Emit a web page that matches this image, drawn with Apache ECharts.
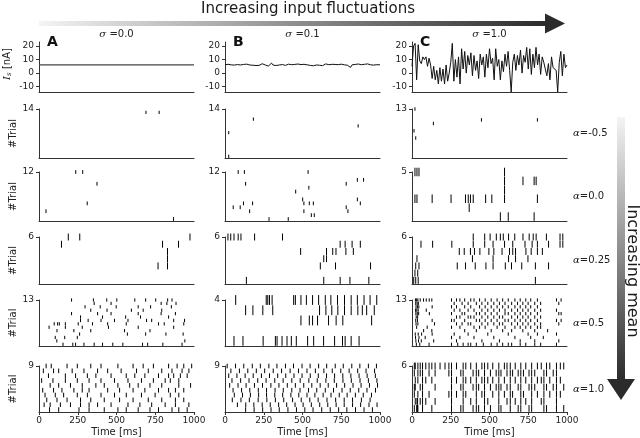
<!DOCTYPE html>
<html><head><meta charset="utf-8">
<script src="https://cdn.jsdelivr.net/npm/echarts@6/dist/echarts.min.js"></script>
<style>html,body{margin:0;padding:0;background:#fff}#c{width:640px;height:438px}</style>
</head><body><div id="c"></div>
<script>
// ---------- DATA ----------
const sigmaLabels = ['0.0', '0.1', '1.0'];
const alphaLabels = ['-0.5', '0.0', '0.25', '0.5', '1.0'];
const panelLetters = ['A', 'B', 'C'];
const timeTicks = [0, 250, 500, 750, 1000];
const isTicks = [-10, 0, 10, 20];
const isStep = 10; // ms between current samples

const Is_A_times = [0, 1000];
const Is_A = [6, 6];
const Is_B = [6.2,5.8,6.5,5.6,6.1,6.8,5.9,5.4,6.3,6.9, 6.0,5.5,6.4,5.9,6.6,5.3,6.0,6.7,5.8,6.2,
  5.6,6.4,5.7,6.1,6.9,5.5,6.0,6.3,5.2,6.1, 7.4,5.9,6.2,5.6,6.5,6.0,5.4,6.3,6.8,5.7,
  6.1,6.6,5.8,6.2,5.5,6.4,6.0,6.7,5.6,6.3, 5.9,6.5,5.8,6.1,6.9,5.7,6.2,5.4,6.4,6.0,
  6.6,5.8,6.3,5.5,6.1,6.8,5.9,6.2,5.6,6.5, 6.0,6.4,5.7,6.2,5.9,6.6,5.5,6.1,6.3,5.8,
  6.0,4.2,6.1,5.6,6.4,5.9,6.7,5.8,6.2,5.4, 6.5,6.0,6.8,5.7,6.1,6.3,5.9,5.5,6.2,6.0, 6.1];
const Is_C = [5,20,22,-5,21,9,7,12,10,12, 5,11,6,-4,5,-5,2,-8,4,-6,
  3,-8,6,-6,0,8,22,-6,10,-3, 12,-8,18,3,16,0,13,6,15,-2,
  13,2,9,-4,14,6,12,-3,14,4, 18,7,11,-5,18,5,10,-5,9,1,
  14,5,16,2,-14,8,14,2,13,6, 17,0,13,8,19,3,18,-1,14,4,
  19,6,14,-1,12,8,3,-2,7,-5, 12,4,5,2,-14,8,16,-2,14,4, 6];

// spike times (ms); index of inner array = trial number
const spk_A_m05 = [[],[],[],[],[],[],[],[],[],[],[],[],[],[690,775],[]];
const spk_B_m05 = [[24],[],[],[],[],[],[],[24],[],[859],[],[183],[],[],[]];
const spk_C_m05 = [[],[],[],[],[],[24],[],[13],[],[138],[448,809],[],[],[19]];

const spk_A_0 = [[868],[],[45],[],[311],[],[],[],[],[374],[],[],[237,282]];
const spk_B_0 = [[284,408],[557,576],[159,509,793],[53,98,782],[119,178,509,544,570,873],[501,854],[],[456],[541],[133,782],[854,894],[],[85,125,536]];
const spk_C_0 = [[570,621,788],[369],[19,32,130,252,345,363,377,395,475,515,597,809],[597],[597,716,788,801],[19,32,45,597]];

const spk_A_025 = [[],[],[768,829],[829],[829],[145,797,900],[189,263,974]];
const spk_B_025 = [[138,637,743,806,928],[],[615,713,939],[637,655],[488,655,695,716,780,828],[743,775,820,873],[19,37,58,85,103,191,371]];
const spk_C_025 = [[11,24,40,796],[19,37],[24,45,292,345,408,477,523,602,642,708,796,881],[32,390,523,623,668,748],
  [305,337,377,403,438,496,528,581,629,650,668,735,769,809,841],
  [58,133,257,395,469,523,597,650,729,775,809,881,955,973],
  [395,469,504,544,570,589,623,663,716,756,782,801,867,955,973]];

const spk_A_05 = [[155,218,236,290,356,410,476,541,668,701,799,923],[115,941],[105,166,247],[262,570,688,819,930],
  [116,225,334,552,716],[65,170,279,448,640,869],[98,120,131,170,253,345,443,563,771,808,934],
  [268,317,400,487,574,694,727,869,939],[268,410,559,655,836],[210,378,465,640,788,880],
  [334,439,596,672,792],[297,395,498,640,720,854],[356,465,788,825,884],[210,351,437,502,618,688,753,830,858]];
const spk_B_05 = [[58,116,246,325,336,368,400,428,460,533,572,636,707,758,775,814,865],[],
  [490,544,565,597,668,717,760,946],
  [133,180,244,308,610,651,689,728,771,814,857,886,914,963],
  [69,266,276,287,304,443,454,490,525,565,604,647,683,726,771,814,854,897,936,979]];
const spk_C_05 = [
  [28,50,110,255,295,330,362,379,415,460,511,549,585,621,643,698,734,792,830,932],
  [25,42,60,140,287,451,564,698,792,947],
  [23,45,85,255,309,400,528,664,766,847],
  [21,40,62,130,272,362,489,621,749,809,932],
  [75,128,340,415,511,585,643,715,792,875],
  [30,98,255,309,400,436,472,549,600,664,698,734,766,809,830],
  [26,38,145,287,323,362,379,451,489,528,564,585,643,681,715,749,792,830,947],
  [24,35,130,255,272,340,415,436,472,511,549,600,621,664,698,734,766,809,932,962],
  [27,36,287,309,362,379,400,451,489,528,564,585,643,681,715,749,792,830],
  [25,34,43,112,255,323,340,415,436,472,511,549,600,621,664,698,734,766,809,947,962],
  [23,31,40,92,272,309,362,400,451,489,528,564,600,643,681,715,749,792,830,932],
  [26,35,44,130,255,287,340,379,436,472,511,549,585,621,664,698,734,766,809],
  [24,33,41,272,323,362,415,451,489,528,564,600,643,681,715,749,792,830,947],
  [22,30,38,53,74,92,111,128,255,287,309,340,379,400,436,472,511,549,585,621,664,698,734,766,809,932,962]];

const spk_A_1 = [
  [68,127,258,323,421,509,563,640,716,771,858,902,956],
  [33,72,138,203,268,323,378,465,574,651,727,814,880,967],
  [50,116,181,268,334,421,520,607,705,792,880,934],
  [39,105,159,247,312,400,487,563,661,749,847,902],
  [24,94,148,225,279,323,443,520,607,683,771,836,880,934],
  [72,127,203,279,367,421,509,585,640,716,792,902,978],
  [17,90,170,247,323,400,487,574,661,738,814,847,902],
  [61,170,236,312,367,465,563,618,683,771,836,869,912,956],
  [28,94,127,214,290,378,443,530,629,705,792,858,923,967],
  [46,79,181,247,334,400,509,607,672,738,836,891,934,985]];
const spk_B_1 = [
  [133,188,243,297,350,406,461,515,568,624,679,733,786,842,897,951],
  [80,134,186,240,292,346,398,452,504,557,611,663,717,769,823,875,929,981],
  [47,103,157,214,270,325,379,436,492,547,601,658,714,769,823,880,936],
  [60,113,164,217,268,321,372,425,476,529,580,633,684,737,788,841,892,945],
  [52,107,160,215,268,323,376,431,484,539,592,647,700,755,808,863,916,971],
  [30,84,136,190,242,296,348,402,454,508,560,614,666,720,772,826,878,932,984],
  [45,101,155,211,265,321,375,431,485,541,595,651,705,761,815,871,925,980],
  [24,77,130,182,235,287,340,392,445,497,550,602,655,707,760,812,865,917,970],
  [38,93,147,202,256,311,365,420,474,529,583,638,692,747,801,856,910,965],
  [14,68,121,176,228,283,335,390,442,497,549,604,656,711,763,818,870,925,977]];
const spk_C_1 = [
  [15,30,35,38,68,128,255,315,330,394,415,430,468,506,560,574,634,685,702,755,772,851,868,932,979],
  [21,32,36,53,68,89,149,255,330,379,415,468,489,560,613,634,666,702,734,772,834,851,932],
  [15,38,68,110,238,255,287,330,347,415,451,468,521,560,596,634,649,702,719,772,809,851,889,932,957],
  [15,21,53,68,149,255,315,330,394,415,430,468,506,543,560,574,613,634,685,702,755,772,792,851,868,911,932,979],
  [21,38,68,89,128,255,287,330,347,379,415,451,468,489,521,560,596,634,666,702,734,772,809,834,851,889,932,957],
  [15,38,53,68,110,149,238,255,315,330,394,415,430,468,506,543,560,574,613,634,649,685,702,719,755,772,792,851,868,911,932],
  [15,21,38,53,68,89,110,128,149,181,213,238,255,287,330,347,379,415,451,468,489,521,560,596,613,634,666,702,734,772,809,834,868,889,932,957,979]];

const rasters = [
  [spk_A_m05, spk_B_m05, spk_C_m05],
  [spk_A_0, spk_B_0, spk_C_0],
  [spk_A_025, spk_B_025, spk_C_025],
  [spk_A_05, spk_B_05, spk_C_05],
  [spk_A_1, spk_B_1, spk_C_1]
];

// ---------- LAYOUT ----------
const colLeft = [39, 225, 412], colW = 155;
const rowTop = [42, 109, 172, 237, 300, 366];
const rowBot = [92, 158, 221, 284, 346, 412];
const axisColor = '#333';
const FONT = 'DejaVu Sans';

const grids = [], xAxes = [], yAxes = [], series = [];
let gi = 0;
for (let r = 0; r < 6; r++) {
  for (let c = 0; c < 3; c++) {
    grids.push({left: colLeft[c], top: rowTop[r], width: colW, height: rowBot[r] - rowTop[r]});
    const last = r === 5;
    xAxes.push({gridIndex: gi, type: 'value', min: 0, max: 1000, interval: 250,
      axisLine: {show: true, onZero: false, lineStyle: {color: axisColor, width: 1}},
      axisTick: {show: last, length: 3, customValues: timeTicks, lineStyle: {color: axisColor}},
      axisLabel: {show: last, customValues: timeTicks, fontSize: 9, color: '#222', margin: 4, fontFamily: FONT,
        formatter: v => String(v)},
      splitLine: {show: false}});
    if (r === 0) {
      yAxes.push({gridIndex: gi, type: 'value', min: -14, max: 23,
        axisLine: {show: true, onZero: false, lineStyle: {color: axisColor, width: 1}},
        axisTick: {show: true, length: 3, customValues: isTicks, lineStyle: {color: axisColor}},
        axisLabel: {show: true, customValues: isTicks, fontSize: 9, color: '#222', margin: 5, fontFamily: FONT},
        splitLine: {show: false}});
      const vals = c === 0 ? Is_A : (c === 1 ? Is_B : Is_C);
      const data = c === 0 ? Is_A.map((v, i) => [Is_A_times[i], v]) : vals.map((v, i) => [i * isStep, v]);
      series.push({type: 'line', xAxisIndex: gi, yAxisIndex: gi, data: data, showSymbol: false,
        lineStyle: {color: c === 0 ? '#444' : '#111', width: c === 0 ? 1.3 : 1}, silent: true});
    } else {
      const trials = rasters[r - 1][c];
      const N = trials.length - 1;
      yAxes.push({gridIndex: gi, type: 'value', min: -0.5, max: N,
        axisLine: {show: true, onZero: false, lineStyle: {color: axisColor, width: 1}},
        axisTick: {show: true, length: 3, customValues: [N], lineStyle: {color: axisColor}},
        axisLabel: {show: true, customValues: [N], fontSize: 9, color: '#222', margin: 5, fontFamily: FONT},
        splitLine: {show: false}});
      const data = [];
      trials.forEach((arr, tr) => arr.forEach(t => data.push([t, tr])));
      series.push({type: 'custom', xAxisIndex: gi, yAxisIndex: gi, data: data, clip: false, silent: true,
        renderItem: function (params, api) {
          const t = api.value(0), tr = api.value(1);
          const p1 = api.coord([t, tr - 0.48]), p2 = api.coord([t, tr + 0.48]);
          return {type: 'line', shape: {x1: p1[0], y1: p1[1], x2: p2[0], y2: p2[1]},
            style: {stroke: '#000', lineWidth: 1}};
        }});
    }
    gi++;
  }
}

// ---------- GRAPHICS (annotations) ----------
const graphic = [];
graphic.push({type: 'text', x: 308, y: 9, style: {text: 'Increasing input fluctuations', font: '15px ' + FONT,
  fill: '#1a1a1a', align: 'center', verticalAlign: 'middle'}});
graphic.push({type: 'rect', shape: {x: 39, y: 21, width: 507, height: 5},
  style: {fill: new echarts.graphic.LinearGradient(0, 0, 1, 0, [{offset: 0, color: '#f4f4f4'}, {offset: 1, color: '#2b2b2b'}])}});
graphic.push({type: 'polygon', shape: {points: [[545, 13.5], [565, 23.5], [545, 33.5]]}, style: {fill: '#2b2b2b'}});

graphic.push({type: 'rect', shape: {x: 617, y: 117, width: 8, height: 263},
  style: {fill: new echarts.graphic.LinearGradient(0, 0, 0, 1, [{offset: 0, color: '#f4f4f4'}, {offset: 1, color: '#2b2b2b'}])}});
graphic.push({type: 'polygon', shape: {points: [[607, 379], [635, 379], [621, 400]]}, style: {fill: '#2b2b2b'}});
graphic.push({type: 'text', x: 632, y: 271, rotation: -Math.PI / 2,
  style: {text: 'Increasing mean', font: '16px ' + FONT, fill: '#1a1a1a', align: 'center', verticalAlign: 'middle'}});

for (let c = 0; c < 3; c++) {
  const cx = colLeft[c] + colW / 2;
  graphic.push({type: 'text', x: cx, y: 34, style: {
    text: '{g|σ} {n|=' + sigmaLabels[c] + '}', align: 'center', verticalAlign: 'middle',
    rich: {g: {fontFamily: 'DejaVu Serif', fontStyle: 'italic', fontSize: 10, fill: '#222'},
           n: {fontFamily: FONT, fontSize: 10, fill: '#222'}}}});
  graphic.push({type: 'text', x: colLeft[c] + 8, y: 42.5, style: {text: panelLetters[c],
    font: 'bold 14px ' + FONT, fill: '#111', align: 'left', verticalAlign: 'middle'}});
  graphic.push({type: 'text', x: cx, y: 432, style: {text: 'Time [ms]', font: '10px ' + FONT,
    fill: '#222', align: 'center', verticalAlign: 'middle'}});
}
for (let r = 1; r < 6; r++) {
  const cy = (rowTop[r] + rowBot[r]) / 2;
  graphic.push({type: 'text', x: 573, y: cy, style: {
    text: '{g|α}{n|=' + alphaLabels[r - 1] + '}', align: 'left', verticalAlign: 'middle',
    rich: {g: {fontFamily: 'DejaVu Serif', fontStyle: 'italic', fontSize: 10, fill: '#222'},
           n: {fontFamily: FONT, fontSize: 10, fill: '#222'}}}});
  graphic.push({type: 'text', x: 13.5, y: cy, rotation: Math.PI / 2, style: {text: '#Trial',
    font: '10px ' + FONT, fill: '#222', align: 'center', verticalAlign: 'middle'}});
}
graphic.push({type: 'text', x: 7, y: 64, rotation: Math.PI / 2, style: {
  text: '{i|I}{s|s} {n|[nA]}', align: 'center', verticalAlign: 'middle',
  rich: {i: {fontFamily: 'DejaVu Serif', fontStyle: 'italic', fontSize: 10, fill: '#222'},
         s: {fontFamily: 'DejaVu Serif', fontStyle: 'italic', fontSize: 7, fill: '#222', verticalAlign: 'bottom'},
         n: {fontFamily: FONT, fontSize: 10, fill: '#222'}}}});

const chart = echarts.init(document.getElementById('c'), null, {renderer: 'canvas'});
chart.setOption({animation: false, backgroundColor: '#fff', grid: grids, xAxis: xAxes, yAxis: yAxes,
  series: series, graphic: graphic});
</script></body></html>
